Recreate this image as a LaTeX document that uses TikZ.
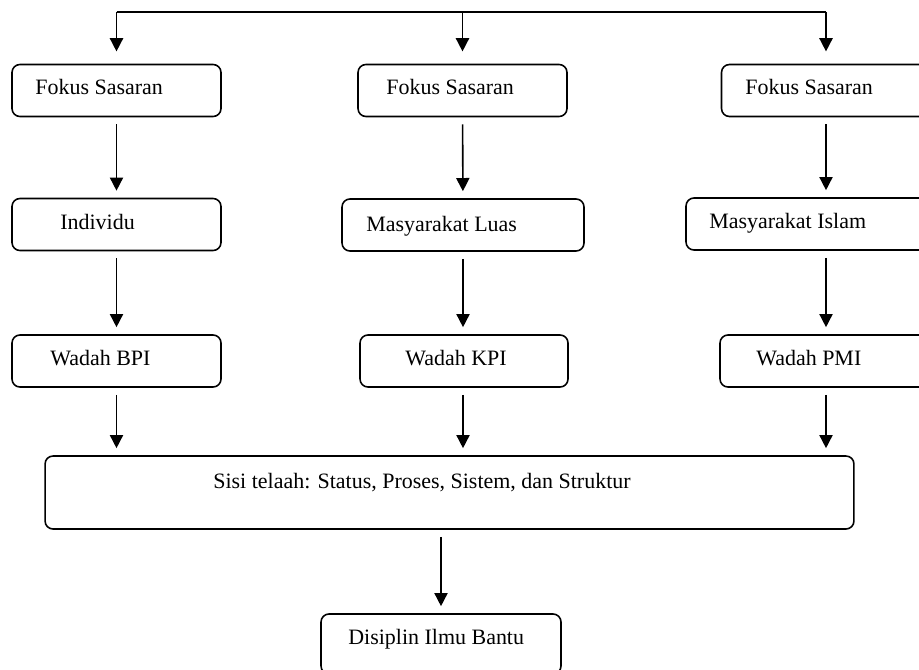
\documentclass[tikz,border=0pt]{standalone}
\usepackage{fontspec}
\setmainfont{Liberation Serif}
\usetikzlibrary{arrows.meta}

\begin{document}
\begin{tikzpicture}[x=0.02cm, y=-0.02cm,
                    box/.style={draw, rounded corners=4.5pt, line width=0.9pt, inner sep=0pt, minimum height=1.04cm},
                    txt/.style={anchor=base west, inner sep=0pt, font=\fontsize{12.5}{15}\selectfont},
                    flow/.style={-{Triangle[width=7.5pt,length=7.5pt]}, line width=0.9pt, shorten <=4pt, shorten >=4pt}
]
\useasboundingbox (0,0) rectangle (919,669);
\clip (0,0) rectangle (919,669);
%
\node [box, minimum width=4.18cm] at (116.5,90.5) (fokus1) {};
\node [box, minimum width=4.18cm] at (462.5,90.5) (fokus2) {};
\node [box, minimum width=4.18cm] at (826,90.5) (fokus3) {};
%
\node [box, minimum width=4.18cm] at (116.5,224.5) (individu) {};
\node [box, minimum width=4.84cm] at (463,225) (luas) {};
\node [box, minimum width=5.6cm] at (826,224) (islam) {};
%
\node [box, minimum width=4.18cm] at (116.5,361) (bpi) {};
\node [box, minimum width=4.16cm] at (464,361) (kpi) {};
\node [box, minimum width=4.24cm] at (826,361) (pmi) {};
%
\node [box, minimum width=16.18cm, minimum height=1.46cm] at (449.5,492.5) (telaah) {};
\node [box, minimum width=4.8cm, minimum height=1.2cm] at (441,644) (bantu) {};
%
\node [txt] at (35,94) (fokus1-txt) {Fokus Sasaran};
\node [txt] at (386,94) (fokus2-txt) {Fokus Sasaran};
\node [txt] at (745,94) (fokus3-txt) {Fokus Sasaran};
\node [txt] at (60,229) (individu-txt) {Individu};
\node [txt] at (366,231) (luas-txt) {Masyarakat Luas};
\node [txt] at (709,228) (islam-txt) {Masyarakat Islam};
\node [txt] at (50,365) (bpi-txt) {Wadah BPI};
\node [txt] at (405,365) (kpi-txt) {Wadah KPI};
\node [txt] at (756,365) (pmi-txt) {Wadah PMI};
\node [txt] at (213,488) (telaah-txt) {Sisi telaah: Status, Proses, Sistem, dan Struktur};
\node [txt] at (348,644) (bantu-txt) {Disiplin Ilmu Bantu};
%
\coordinate (split) at (462,12);
\draw [line width=0.9pt] (split -| fokus1) -- (split -| fokus3);
\draw [flow, shorten <=0pt, shorten >=7pt] (split -| fokus1) -- (fokus1.north);
\draw [flow, shorten <=0pt, shorten >=7pt] (split -| fokus2) -- (fokus2.north);
\draw [flow, shorten <=0pt, shorten >=7pt] (split -| fokus3) -- (fokus3.north);
%
\draw [flow] (fokus1) -- (individu);
\draw [flow] (fokus2) -- (luas);
\draw [flow] (fokus3) -- (islam);
%
\draw [flow] (individu) -- (bpi);
\draw [flow] (luas.south) -- (kpi.north -| luas);
\draw [flow] (islam) -- (pmi);
%
\draw [flow] (bpi) -- (telaah.north -| bpi);
\draw [flow] (kpi.south -| luas) -- (telaah.north -| luas);
\draw [flow] (pmi) -- (telaah.north -| pmi);
\draw [flow] (telaah.south -| bantu) -- (bantu);
\end{tikzpicture}
\end{document}
